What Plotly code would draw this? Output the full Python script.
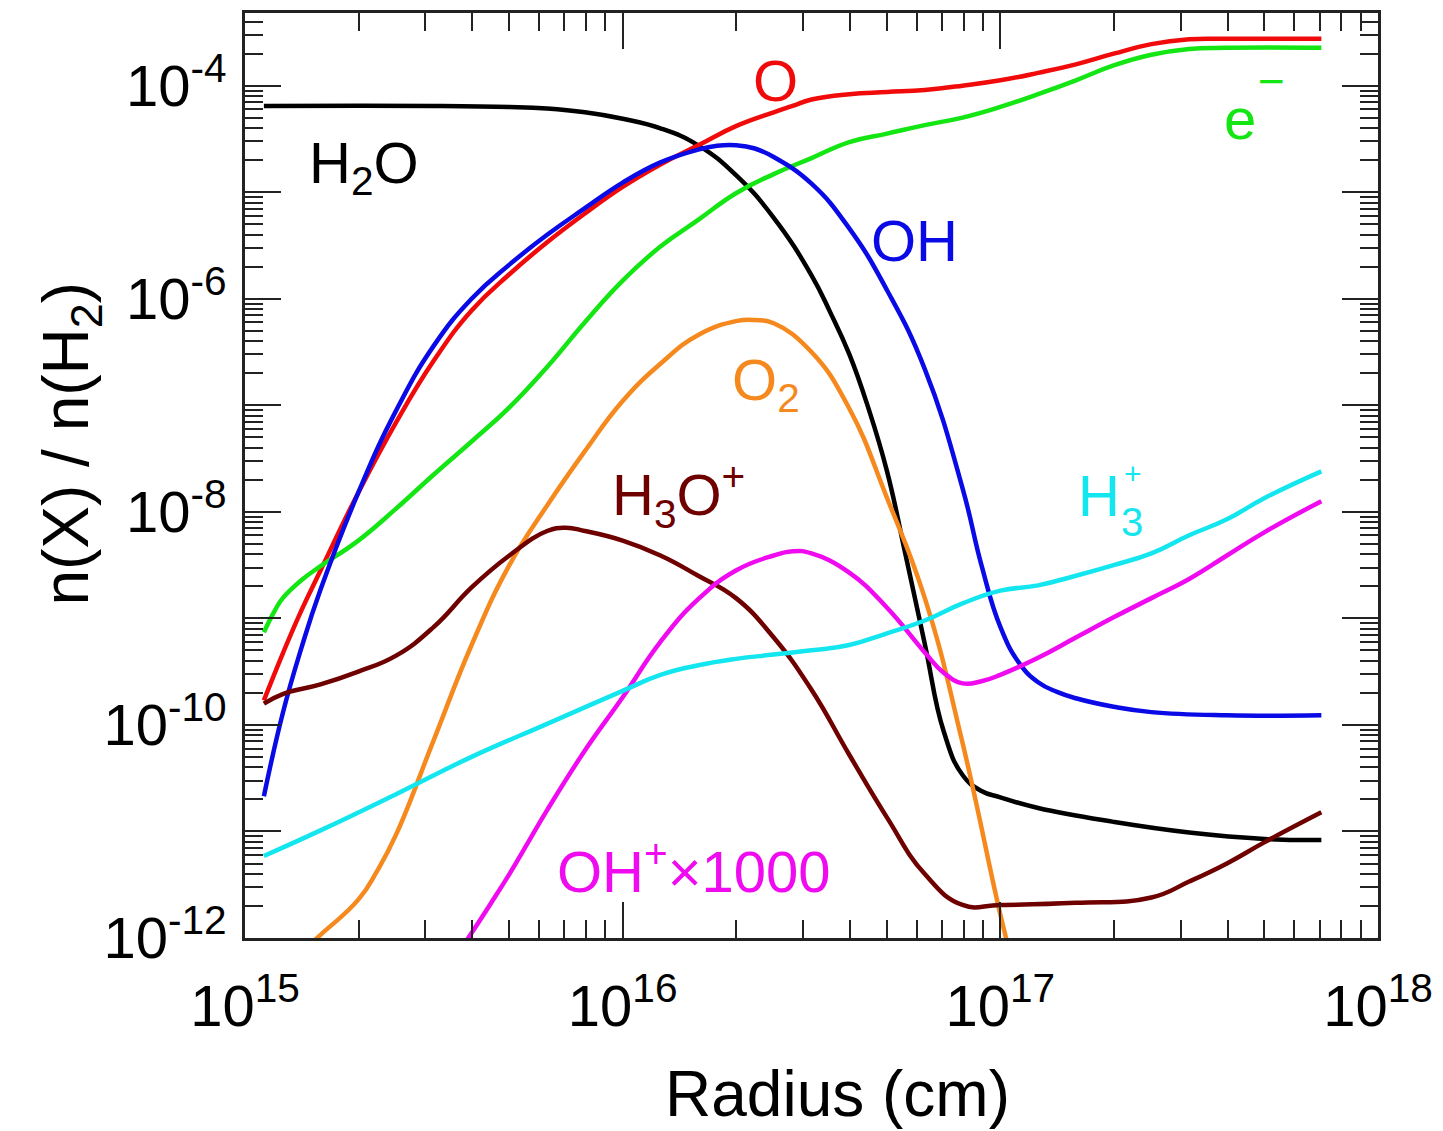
import plotly.graph_objects as go

# ---- data: log10(radius / cm) and log10(abundance) ----
h2o_logr = [15.05, 15.5, 15.7, 15.8, 15.9, 16.0, 16.1, 16.2, 16.3, 16.4, 16.5, 16.55, 16.6, 16.65, 16.7, 16.75,
            16.8, 16.85, 16.9, 16.95, 17.0, 17.1, 17.3, 17.5, 17.7, 17.85]
h2o_logx = [-4.19, -4.19, -4.20, -4.215, -4.25, -4.31, -4.40, -4.56, -4.84, -5.24, -5.78, -6.13, -6.52, -7.02, -7.62, -8.42,
            -9.24, -10.06, -10.47, -10.62, -10.68, -10.78, -10.91, -11.01, -11.07, -11.08]

o_logr = [15.05, 15.1, 15.15, 15.2, 15.3, 15.4, 15.5, 15.6, 15.7, 15.8, 15.9, 16.0, 16.1, 16.2,
          16.3, 16.4, 16.45, 16.5, 16.6, 16.7, 16.8, 16.9, 17.0, 17.1, 17.2, 17.3, 17.4, 17.5, 17.6, 17.85]
o_logx = [-9.77, -9.33, -8.92, -8.55, -7.82, -7.16, -6.58, -6.11, -5.77, -5.47, -5.20, -4.95, -4.74, -4.56,
          -4.38, -4.25, -4.19, -4.13, -4.08, -4.06, -4.04, -4.00, -3.95, -3.88, -3.80, -3.70, -3.61, -3.565, -3.56, -3.56]

oh_logr = [15.05, 15.1, 15.15, 15.2, 15.3, 15.4, 15.5, 15.6, 15.7, 15.8, 15.9, 16.0, 16.1, 16.2,
           16.25, 16.3, 16.35, 16.4, 16.5, 16.6, 16.7, 16.8, 16.9, 16.95, 17.0, 17.05, 17.1, 17.15, 17.2, 17.3,
           17.4, 17.6, 17.85]
oh_logx = [-10.67, -9.89, -9.27, -8.73, -7.82, -7.05, -6.44, -6.00, -5.68, -5.40, -5.15, -4.91, -4.72, -4.60,
           -4.565, -4.56, -4.59, -4.67, -4.92, -5.34, -5.92, -6.66, -7.78, -8.50, -9.08, -9.42, -9.60, -9.69, -9.75, -9.83,
           -9.88, -9.91, -9.91]

e_logr = [15.05, 15.08, 15.1, 15.15, 15.2, 15.3, 15.4, 15.5, 15.6, 15.7, 15.8, 15.9, 16.0, 16.1, 16.2, 16.3,
          16.4, 16.5, 16.6, 16.7, 16.8, 16.9, 17.0, 17.1, 17.2, 17.3, 17.4, 17.5, 17.6, 17.85]
e_logx = [-9.13, -8.92, -8.81, -8.64, -8.51, -8.27, -7.97, -7.65, -7.34, -7.02, -6.64, -6.22, -5.83, -5.51, -5.26, -5.01,
          -4.83, -4.68, -4.53, -4.45, -4.37, -4.30, -4.20, -4.08, -3.95, -3.81, -3.71, -3.655, -3.645, -3.645]

o2_logr = [15.15, 15.2, 15.3, 15.35, 15.4, 15.5, 15.6, 15.7, 15.8, 15.9, 16.0, 16.1, 16.2, 16.3, 16.35,
           16.4, 16.5, 16.6, 16.7, 16.8, 16.9, 17.0, 17.03]
o2_logx = [-12.13, -11.97, -11.64, -11.37, -11.03, -10.14, -9.25, -8.50, -7.94, -7.43, -6.96, -6.61, -6.34, -6.21, -6.20,
           -6.23, -6.50, -7.03, -7.87, -8.81, -10.17, -11.78, -12.2]

h3op_logr = [15.05, 15.1, 15.2, 15.3, 15.4, 15.5, 15.6, 15.7, 15.8, 15.85, 15.9, 16.0, 16.1, 16.2, 16.3,
             16.4, 16.5, 16.6, 16.7, 16.8, 16.9, 17.0, 17.2, 17.4, 17.5, 17.6, 17.7, 17.85]
h3op_logx = [-9.80, -9.71, -9.62, -9.50, -9.35, -9.08, -8.71, -8.41, -8.18, -8.15, -8.18, -8.27, -8.41, -8.60, -8.81,
             -9.18, -9.67, -10.28, -10.87, -11.40, -11.69, -11.69, -11.67, -11.62, -11.47, -11.30, -11.10, -10.82]

ohp_logr = [15.58, 15.65, 15.7, 15.75, 15.8, 15.9, 16.0, 16.1, 16.2, 16.3, 16.4, 16.45, 16.5, 16.6, 16.7, 16.8,
            16.85, 16.9, 16.95, 17.0, 17.1, 17.2, 17.3, 17.4, 17.5, 17.6, 17.7, 17.85]
ohp_logx = [-12.06, -11.68, -11.40, -11.10, -10.80, -10.24, -9.74, -9.22, -8.82, -8.55, -8.41, -8.37, -8.39, -8.57, -8.90, -9.32,
            -9.51, -9.61, -9.59, -9.53, -9.37, -9.18, -8.99, -8.81, -8.63, -8.41, -8.19, -7.90]

h3p_logr = [15.05, 15.2, 15.4, 15.6, 15.8, 16.0, 16.1, 16.2, 16.3, 16.4, 16.5, 16.6, 16.7, 16.8, 16.9,
            17.0, 17.1, 17.2, 17.3, 17.4, 17.5, 17.6, 17.7, 17.85]
h3p_logx = [-11.23, -10.99, -10.65, -10.30, -9.99, -9.68, -9.53, -9.44, -9.38, -9.34, -9.30, -9.25, -9.14, -9.02, -8.86,
            -8.74, -8.69, -8.60, -8.50, -8.39, -8.22, -8.07, -7.87, -7.62]

x_tick_exps = [15, 16, 17, 18]
y_tick_exps = [-12, -11, -10, -9, -8, -7, -6, -5, -4, -3]
y_label_exps = [-12, -10, -8, -6, -4]

C_H2O, C_O, C_E, C_OH = "#000000", "#f00a0a", "#14e614", "#0a0ae6"
C_O2, C_H3OP, C_OHP, C_H3P = "#f5891e", "#6e0000", "#f00af0", "#14e6f0"

series = [
    ("H2O", h2o_logr, h2o_logx, C_H2O),
    ("O", o_logr, o_logx, C_O),
    ("e-", e_logr, e_logx, C_E),
    ("OH", oh_logr, oh_logx, C_OH),
    ("O2", o2_logr, o2_logx, C_O2),
    ("H3O+", h3op_logr, h3op_logx, C_H3OP),
    ("OH+ x1000", ohp_logr, ohp_logx, C_OHP),
    ("H3+", h3p_logr, h3p_logx, C_H3P),
]

FONT = "Liberation Sans, Arial, Helvetica, sans-serif"

fig = go.Figure()
for name, lr, lx, col in series:
    fig.add_trace(go.Scatter(
        x=[10 ** v for v in lr], y=[10 ** v for v in lx], mode="lines", name=name,
        line=dict(color=col, width=4.5, shape="spline", smoothing=1.3),
        showlegend=False, hoverinfo="skip"))

lab_size = 58
labels = [
    ("O", 16.405, -3.95, C_O),
    ("H<sub>2</sub>O", 15.316, -4.76, C_H2O),
    ("OH", 16.774, -5.45, C_OH),
    ("O<sub>2</sub>", 16.379, -6.80, C_O2),
    ("H<sub>3</sub>O<sup>+</sup>", 16.147, -7.85, C_H3OP),
    ("OH<sup>+</sup>×1000", 16.19, -11.34, C_OHP),
]
for txt, x, y, col in labels:
    fig.add_annotation(x=x, y=y, text=txt, showarrow=False,
                       font=dict(family=FONT, size=lab_size, color=col))

# e- label
fig.add_annotation(x=17.635, y=-4.31, text="e", showarrow=False,
                   font=dict(family=FONT, size=lab_size, color=C_E))
fig.add_annotation(x=17.635, y=-4.31, text="−", showarrow=False, xshift=31, yshift=38,
                   font=dict(family=FONT, size=46, color=C_E))
# H3+ label (stacked sub/superscript)
fig.add_annotation(x=17.26, y=-7.85, text="H", showarrow=False,
                   font=dict(family=FONT, size=lab_size, color=C_H3P))
fig.add_annotation(x=17.26, y=-7.85, text="+", showarrow=False, xshift=34, yshift=22,
                   font=dict(family=FONT, size=30, color=C_H3P))
fig.add_annotation(x=17.26, y=-7.85, text="3", showarrow=False, xshift=33, yshift=-26,
                   font=dict(family=FONT, size=40, color=C_H3P))

# axis titles
fig.add_annotation(xref="paper", yref="paper", x=0.523, y=-0.169, text="Radius (cm)",
                   showarrow=False, xanchor="center", yanchor="middle",
                   font=dict(family=FONT, size=64, color="#000"))
fig.add_annotation(xref="paper", yref="paper", x=-0.154, y=0.534, text="n(X) / n(H<sub>2</sub>)",
                   showarrow=False, textangle=-90, xanchor="center", yanchor="middle",
                   font=dict(family=FONT, size=64, color="#000"))

x_minor = [k * 10.0 ** n for n in range(15, 18) for k in range(2, 10)]
y_minor = [k * 10.0 ** n for n in range(-13, -3) for k in range(2, 10)]

axis_common = dict(
    showgrid=False, zeroline=False, showline=True, linecolor="#222", linewidth=2.5,
    mirror="ticks", ticks="inside", ticklen=36, tickwidth=2, tickcolor="#222",
    tickfont=dict(family=FONT, size=58, color="#000"),
)

fig.update_xaxes(
    type="log", range=[15, 18],
    tickmode="array", tickvals=[10.0 ** e for e in x_tick_exps],
    ticktext=["10<sup>%d</sup>" % e for e in x_tick_exps],
    minor=dict(tickmode="array", tickvals=x_minor, ticks="inside", ticklen=18,
               tickwidth=2, tickcolor="#222"),
    ticklabelstandoff=16,
    **axis_common)

fig.update_yaxes(
    type="log", range=[-12, -3.318],
    tickmode="array", tickvals=[10.0 ** e for e in y_tick_exps],
    ticktext=[("10<sup>%d</sup>" % e if e in y_label_exps else "") for e in y_tick_exps],
    minor=dict(tickmode="array", tickvals=y_minor, ticks="inside", ticklen=18,
               tickwidth=2, tickcolor="#222"),
    ticklabelstandoff=4,
    **axis_common)

fig.update_layout(
    width=1443, height=1131,
    margin=dict(l=245, r=60, t=10, b=193),
    paper_bgcolor="white", plot_bgcolor="white",
    font=dict(family=FONT, color="#000"),
)

fig.write_html("out.html")
